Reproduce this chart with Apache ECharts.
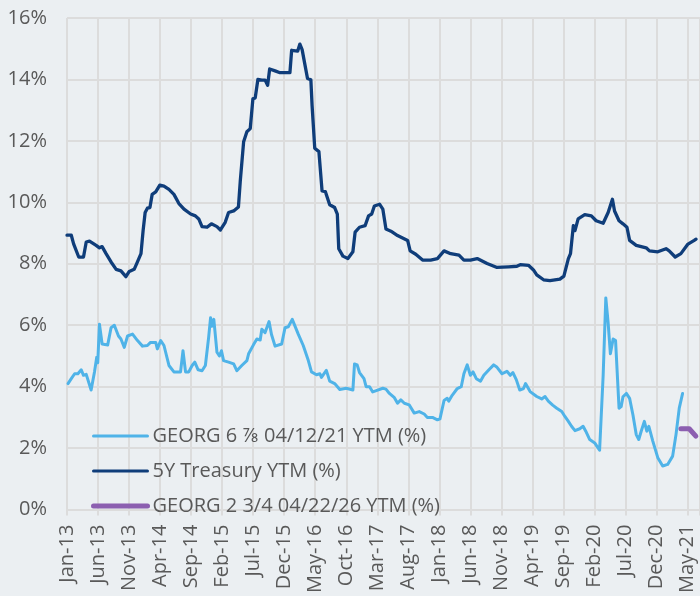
<!DOCTYPE html>
<html>
<head>
<meta charset="utf-8">
<title>GEORG YTM vs 5Y Treasury</title>
<script src="https://cdn.jsdelivr.net/npm/echarts@6/dist/echarts.min.js"></script>
<style>
  html, body { margin: 0; padding: 0; background: #ebeff2; }
  #main { width: 700px; height: 596px; }
</style>
</head>
<body>
<div id="main"></div>
<script>
// 5Y Treasury YTM (%)
var treasuryDates = ['2013-01-01','2013-01-22','2013-02-03','2013-02-12','2013-02-28','2013-03-21','2013-04-04','2013-04-20','2013-05-22','2013-06-08',
  '2013-06-21','2013-07-10','2013-08-04','2013-08-29','2013-09-22','2013-10-16','2013-11-02','2013-11-26','2013-12-07','2013-12-29',
  '2014-01-09','2014-01-19','2014-01-30','2014-02-12','2014-02-23','2014-03-10','2014-03-30','2014-04-20','2014-05-14','2014-06-08',
  '2014-07-02','2014-07-27','2014-08-29','2014-09-22','2014-10-08','2014-10-24','2014-11-18','2014-12-09','2015-01-06','2015-01-23',
  '2015-02-16','2015-03-02','2015-03-27','2015-04-20','2015-04-29','2015-05-15','2015-05-31','2015-06-17','2015-06-30','2015-07-11',
  '2015-07-24','2015-08-13','2015-08-29','2015-09-11','2015-09-21','2015-10-17','2015-11-11','2015-12-29','2016-01-07','2016-02-06',
  '2016-02-17','2016-02-28','2016-03-11','2016-03-24','2016-04-10','2016-04-16','2016-04-29','2016-05-19','2016-06-04','2016-06-20',
  '2016-07-11','2016-08-05','2016-08-18','2016-08-25','2016-09-15','2016-10-09','2016-11-03','2016-11-14','2016-12-05','2017-01-02',
  '2017-01-19','2017-02-04','2017-02-17','2017-03-12','2017-03-28','2017-04-13','2017-05-07','2017-06-09','2017-07-28','2017-08-10',
  '2017-09-07','2017-10-10','2017-11-19','2017-12-22','2018-01-24','2018-02-26','2018-04-06','2018-04-30','2018-06-01','2018-07-04',
  '2018-08-22','2018-10-10','2018-12-06','2019-01-16','2019-02-02','2019-03-12','2019-04-06','2019-04-22','2019-05-25','2019-06-26',
  '2019-08-14','2019-09-03','2019-09-25','2019-10-05','2019-10-19','2019-10-27','2019-11-12','2019-12-14','2020-01-16','2020-02-09',
  '2020-03-13','2020-04-07','2020-04-28','2020-05-08','2020-05-30','2020-06-19','2020-07-08','2020-07-21','2020-08-23','2020-10-11',
  '2020-10-27','2020-12-07','2021-01-17','2021-02-02','2021-03-01','2021-03-29','2021-05-01','2021-06-03','2021-06-12'];
var treasuryYtm = [8.93,8.93,8.65,8.70,8.22,8.22,8.71,8.74,8.60,8.52,
  8.56,8.33,8.06,7.82,7.77,7.58,7.75,7.82,7.99,8.33,
  9.08,9.67,9.81,9.83,10.26,10.34,10.56,10.53,10.42,10.26,
  9.96,9.78,9.62,9.56,9.46,9.21,9.19,9.30,9.21,9.10,
  9.35,9.67,9.72,9.85,10.69,11.97,12.30,12.40,13.37,13.40,
  14.00,13.98,13.98,13.81,14.34,14.28,14.22,14.22,14.95,14.92,
  15.15,14.97,14.49,14.03,13.99,13.15,11.76,11.65,10.37,10.35,
  9.92,9.83,9.62,8.49,8.25,8.17,8.39,9.03,9.19,9.24,
  9.56,9.62,9.88,9.94,9.78,9.13,9.06,8.92,8.76,8.42,
  8.31,8.12,8.12,8.17,8.42,8.33,8.28,8.12,8.12,8.17,
  8.01,7.88,7.90,7.92,7.97,7.95,7.80,7.64,7.48,7.45,
  7.50,7.60,8.17,8.33,9.24,9.08,9.46,9.60,9.56,9.40,
  9.32,9.67,10.10,9.72,9.40,9.30,9.19,8.76,8.60,8.52,
  8.42,8.39,8.49,8.42,8.22,8.33,8.63,8.76,8.80];

// GEORG 6 7/8 04/12/21 YTM (%)
var georg21Dates = ['2013-01-06','2013-01-22','2013-02-08','2013-02-24','2013-03-10','2013-03-21','2013-04-04','2013-04-28','2013-05-14','2013-05-25',
  '2013-05-30','2013-06-08','2013-06-21','2013-07-18','2013-08-04','2013-08-20','2013-09-10','2013-09-22','2013-10-08','2013-10-24',
  '2013-11-18','2013-12-12','2014-01-06','2014-01-30','2014-02-15','2014-03-10','2014-03-18','2014-04-04','2014-04-20','2014-05-14',
  '2014-06-08','2014-07-10','2014-07-22','2014-08-04','2014-08-20','2014-09-06','2014-09-19','2014-10-05','2014-10-24','2014-11-10',
  '2014-11-26','2014-12-05','2014-12-12','2014-12-21','2015-01-06','2015-01-18','2015-01-28','2015-02-08','2015-03-02','2015-03-27',
  '2015-04-12','2015-05-06','2015-05-31','2015-06-09','2015-07-03','2015-07-19','2015-08-05','2015-08-13','2015-08-29','2015-09-18',
  '2015-09-30','2015-10-17','2015-11-19','2015-12-05','2015-12-21','2016-01-10','2016-02-09','2016-03-03','2016-03-28','2016-04-13',
  '2016-05-07','2016-05-24','2016-06-01','2016-06-25','2016-07-11','2016-08-05','2016-08-30','2016-10-01','2016-11-03','2016-11-11',
  '2016-11-24','2016-12-05','2016-12-27','2017-01-07','2017-01-24','2017-02-09','2017-03-03','2017-03-28','2017-04-13','2017-04-30',
  '2017-05-24','2017-06-09','2017-06-25','2017-07-12','2017-08-05','2017-08-30','2017-09-24','2017-10-18','2017-11-03','2017-11-28',
  '2017-12-22','2018-01-04','2018-01-24','2018-02-09','2018-02-17','2018-03-03','2018-03-28','2018-04-17','2018-04-30','2018-05-16',
  '2018-06-01','2018-06-14','2018-06-30','2018-07-20','2018-08-06','2018-08-31','2018-09-24','2018-10-10','2018-11-04','2018-11-28',
  '2018-12-14','2018-12-27','2019-01-13','2019-01-30','2019-02-18','2019-02-28','2019-03-20','2019-04-22','2019-05-16','2019-06-02',
  '2019-06-18','2019-07-09','2019-07-29','2019-08-23','2019-09-08','2019-09-25','2019-10-10','2019-10-27','2019-11-20','2019-12-06',
  '2019-12-19','2020-01-08','2020-02-02','2020-02-26','2020-03-13','2020-03-26','2020-04-07','2020-04-18','2020-05-01','2020-05-13',
  '2020-05-30','2020-06-10','2020-06-19','2020-07-05','2020-07-21','2020-08-07','2020-08-23','2020-09-05','2020-09-17','2020-09-25',
  '2020-10-02','2020-10-14','2020-10-24','2020-11-13','2020-12-07','2020-12-31','2021-01-25','2021-02-19','2021-03-05','2021-03-21',
  '2021-04-07'];
var georg21Ytm = [4.10,4.26,4.42,4.42,4.55,4.37,4.40,3.89,4.48,4.96,
  4.78,6.03,5.39,5.36,5.92,6.00,5.65,5.55,5.28,5.65,
  5.71,5.50,5.32,5.34,5.44,5.44,5.23,5.50,5.34,4.69,
  4.48,4.48,5.17,4.48,4.48,4.69,4.80,4.55,4.52,4.69,
  5.60,6.24,5.97,6.19,5.12,5.00,5.17,4.85,4.80,4.74,
  4.52,4.69,4.85,5.07,5.37,5.55,5.52,5.87,5.76,6.12,
  5.70,5.32,5.39,5.92,5.95,6.19,5.71,5.34,4.85,4.48,
  4.39,4.42,4.30,4.53,4.18,4.10,3.91,3.95,3.89,4.74,
  4.71,4.46,4.26,4.00,4.00,3.83,3.89,3.95,3.92,3.78,
  3.64,3.46,3.57,3.46,3.41,3.14,3.19,3.11,3.00,3.00,
  2.92,2.95,3.55,3.62,3.53,3.72,3.94,4.00,4.42,4.71,
  4.37,4.48,4.26,4.18,4.37,4.55,4.71,4.63,4.42,4.50,
  4.37,4.46,4.23,3.89,3.94,4.10,3.84,3.68,3.60,3.68,
  3.53,3.40,3.30,3.19,3.03,2.87,2.71,2.57,2.63,2.71,
  2.55,2.28,2.17,1.93,4.37,6.89,6.08,5.07,5.55,5.50,
  3.30,3.35,3.67,3.78,3.62,3.08,2.44,2.28,2.55,2.50,
  2.87,2.55,2.71,2.23,1.69,1.42,1.47,1.74,2.44,3.30,
  3.78];

// GEORG 2 3/4 04/22/26 YTM (%)
var georg26Dates = ['2021-03-29','2021-05-09','2021-06-11'];
var georg26Ytm = [2.63,2.63,2.39];

var monthNames = ['Jan','Feb','Mar','Apr','May','Jun','Jul','Aug','Sep','Oct','Nov','Dec'];
var startYear = 2013;
var labelStepMonths = 5;

// month offset since Jan-13
function toMonth(s) {
    var p = s.split('-');
    return (+p[0] - startYear) * 12 + (+p[1] - 1) + (+p[2] - 1) / 30.4;
}
function pairs(dates, vals) {
    return dates.map(function (d, i) { return [toMonth(d), vals[i]]; });
}

var grey = '#595959';
var gridGrey = '#dcdcdc';
var font = '"Open Sans", "Noto Sans", sans-serif';

var chart = echarts.init(document.getElementById('main'));
var option = {
    backgroundColor: '#ebeff2',
    animation: false,
    grid: { left: 67, right: -4, top: 18, bottom: 80 },
    legend: {
        orient: 'vertical',
        left: 91,
        top: 426,
        padding: 0,
        itemWidth: 54,
        itemHeight: 20,
        itemGap: 15,
        // line only, no marker dot
        itemStyle: { color: 'rgba(0,0,0,0)', borderWidth: 0, opacity: 0 },
        textStyle: { color: grey, fontSize: 20, lineHeight: 20, fontFamily: font },
        data: [
            { name: 'GEORG 6 ⅞ 04/12/21 YTM (%)', lineStyle: { width: 3, cap: 'round' } },
            { name: '5Y Treasury YTM (%)', lineStyle: { width: 3, cap: 'round' } },
            { name: 'GEORG 2 3/4 04/22/26 YTM (%)', lineStyle: { width: 5, cap: 'round' } }
        ]
    },
    xAxis: {
        type: 'value',
        min: 0,
        max: 102,
        interval: labelStepMonths,
        axisLine: { show: true, lineStyle: { color: gridGrey, width: 2 } },
        axisTick: { show: true, length: 6, lineStyle: { color: gridGrey, width: 2 } },
        splitLine: { show: true, lineStyle: { color: gridGrey, width: 2 } },
        axisLabel: {
            rotate: 90,
            margin: 15,
            color: grey,
            fontSize: 20,
            fontFamily: font,
            formatter: function (v) {
                if (v % labelStepMonths !== 0) return '';
                var y = startYear + Math.floor(v / 12);
                return monthNames[v % 12] + '-' + String(y).slice(2);
            }
        }
    },
    yAxis: {
        type: 'value',
        min: 0,
        max: 16,
        interval: 2,
        axisLine: { show: false },
        axisTick: { show: false },
        splitLine: { show: true, lineStyle: { color: gridGrey, width: 2 } },
        axisLabel: { color: grey, fontSize: 20, fontFamily: font, margin: 20, formatter: '{value}%' }
    },
    series: [
        {
            name: 'GEORG 6 ⅞ 04/12/21 YTM (%)',
            type: 'line',
            symbol: 'none',
            color: '#4fb3e8',
            lineStyle: { width: 3, color: '#4fb3e8', join: 'round', cap: 'round' },
            data: pairs(georg21Dates, georg21Ytm)
        },
        {
            name: '5Y Treasury YTM (%)',
            type: 'line',
            symbol: 'none',
            color: '#0f3d7a',
            lineStyle: { width: 3.3, color: '#0f3d7a', join: 'round', cap: 'round' },
            data: pairs(treasuryDates, treasuryYtm)
        },
        {
            name: 'GEORG 2 3/4 04/22/26 YTM (%)',
            type: 'line',
            symbol: 'none',
            color: '#8c5fb0',
            lineStyle: { width: 5, color: '#8c5fb0', join: 'round', cap: 'round' },
            data: pairs(georg26Dates, georg26Ytm)
        }
    ]
};
chart.setOption(option);
</script>
</body>
</html>
